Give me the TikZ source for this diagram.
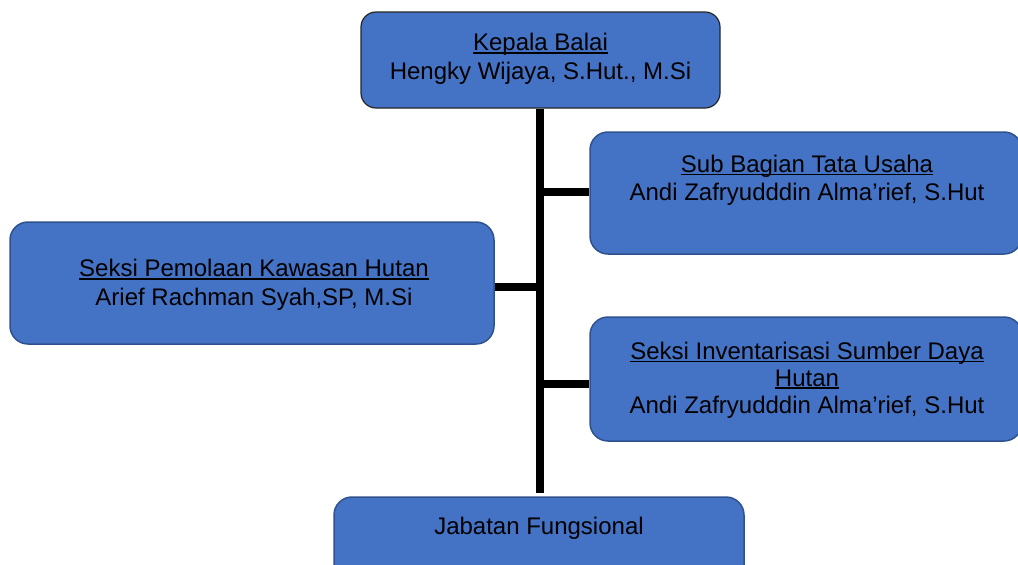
\documentclass[tikz,border=0pt]{standalone}
\usepackage{fontspec}
\setmainfont{Liberation Sans}
\newcommand\myul[1]{\setbox0\hbox{#1}\rlap{\rule[-2.6pt]{\wd0}{1.4pt}}\box0}
\definecolor{boxfill}{HTML}{4472C4}
\definecolor{boxline}{HTML}{2F528F}
\begin{document}
\begin{tikzpicture}[x=1pt,y=-1pt,
  orgbox/.style={draw=boxline, line width=1.5pt, fill=boxfill, rounded corners=18pt,
    minimum width=#1, inner sep=0pt},
  orgtext/.style={align=center, inner sep=0pt, font=\fontsize{24}{28.5}\selectfont, text=black},
  link/.style={line width=7.5pt, black}]
\useasboundingbox (0,0) rectangle (1018,565);
\clip (0,0) rectangle (1018,565);
% boxes
\node[orgbox=359pt, minimum height=96pt, draw=black!85, line width=1.2pt, rounded corners=15pt] (kepala) at (540.5,60) {};
\node[orgbox=432pt, minimum height=122pt] (sub) at (806,193) {};
\node[orgbox=484pt, minimum height=122pt] (pem) at (252,283) {};
\node[orgbox=432pt, minimum height=124pt] (inv) at (806,379) {};
\node[orgbox=410pt, minimum height=110pt] (jab) at (539,552) {};
% texts
\node[orgtext] (kepalatxt) at (540.5,59) {\myul{Kepala Balai}\\Hengky Wijaya, S.Hut., M.Si};
\node[orgtext] (subtxt) at (807,180.5) {\myul{Sub Bagian Tata Usaha}\\Andi Zafryudddin Alma’rief, S.Hut};
\node[orgtext] (pemtxt) at (254,285) {\myul{Seksi Pemolaan Kawasan Hutan}\\Arief Rachman Syah,SP, M.Si};
\node[orgtext, font=\fontsize{24}{26.8}\selectfont] (invtxt) at (807,380) {\myul{Seksi Inventarisasi Sumber Daya}\\\myul{Hutan}\\Andi Zafryudddin Alma’rief, S.Hut};
\node[orgtext] (jabtxt) at (539,528.5) {Jabatan Fungsional};
% connectors
\coordinate (b1) at (540,192);
\coordinate (b2) at (540,287);
\coordinate (b3) at (540,384);
\coordinate (trunkend) at (540,493);
\draw[link] (kepala.south -| b1) -- (trunkend);
\draw[link] (b1) -- (b1 -| sub.west);
\draw[link] (b2) -- (b2 -| pem.east);
\draw[link] (b3) -- (b3 -| inv.west);
\end{tikzpicture}
\end{document}
